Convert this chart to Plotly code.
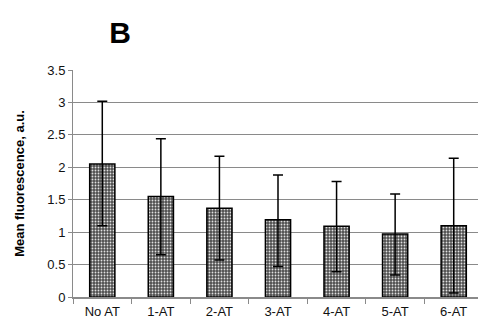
import plotly.graph_objects as go

categories = ["No AT", "1-AT", "2-AT", "3-AT", "4-AT", "5-AT", "6-AT"]
means = [2.05, 1.55, 1.37, 1.19, 1.09, 0.97, 1.10]
err_upper = [3.02, 2.44, 2.17, 1.88, 1.78, 1.59, 2.14]
err_lower = [1.10, 0.65, 0.57, 0.47, 0.39, 0.34, 0.06]

plus = [u - m for u, m in zip(err_upper, means)]
minus = [m - l for l, m in zip(err_lower, means)]

fig = go.Figure()
fig.add_trace(go.Bar(
    x=categories, y=means, width=0.43,
    marker=dict(color="#555555",
                pattern=dict(shape=".", fgcolor="#e0e0e0", bgcolor="#4e4e4e",
                             size=3, solidity=0.3, fillmode="replace"),
                line=dict(color="black", width=1.5)),
    error_y=dict(type="data", symmetric=False, array=plus, arrayminus=minus,
                 color="black", thickness=1.5, width=5),
))

W, H = 478, 314
fig.update_layout(
    width=W, height=H,
    margin=dict(l=65, r=3, t=62, b=25),
    paper_bgcolor="white", plot_bgcolor="white",
    showlegend=False,
    font=dict(family="Liberation Sans, Arial, sans-serif", size=13, color="#111"),
    title=dict(text="<b>B</b>", x=112/W, xanchor="center", y=1-24/H, yanchor="middle",
               font=dict(size=30, color="black")),
)
fig.update_yaxes(range=[0, 3.5], dtick=0.5, showgrid=True, gridcolor="#8a8a8a", gridwidth=1,
                 showline=True, linecolor="#8a8a8a", linewidth=1, zeroline=False,
                 ticks="outside", ticklen=4, tickcolor="#8a8a8a",
                 title=dict(text="<b>Mean fluorescence, a.u.</b>", font=dict(size=13, color="black"),
                            standoff=19))
fig.update_xaxes(showline=True, linecolor="#8a8a8a", linewidth=1.5, ticks="outside",
                 tickson="boundaries", ticklen=5, tickcolor="#8a8a8a", showgrid=False,
                 ticklabelstandoff=2)

fig.write_html("out.html")
